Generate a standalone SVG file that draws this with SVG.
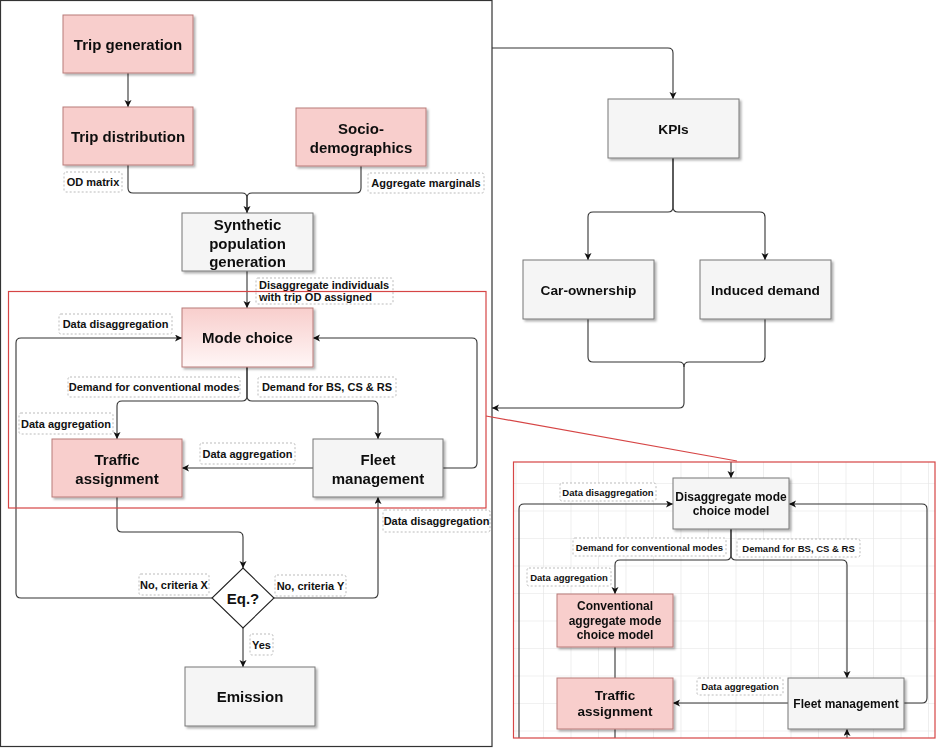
<svg xmlns="http://www.w3.org/2000/svg" width="936" height="748" viewBox="0 0 936 748">
<defs>
<style>
.pk{fill:#f8cecc;stroke:#b87a78;stroke-width:1}
.gr{fill:#f5f5f5;stroke:#777;stroke-width:1}
.t{font-family:"Liberation Sans",Arial,sans-serif;font-weight:bold;fill:#111;text-anchor:middle}
.b{font-size:15px}
.m{font-size:13.7px}
.s{font-size:12px}
.l{font-size:11px}
.ls{font-size:9.5px}
.lb{fill:#fff;stroke:#bbb;stroke-width:1;stroke-dasharray:2,2}
.c{fill:none;stroke:#333;stroke-width:1.1}
.red{fill:none;stroke:#d64545;stroke-width:1.2}
</style>
<marker id="ar" markerWidth="8" markerHeight="8" refX="7" refY="3.5" orient="auto" markerUnits="userSpaceOnUse">
<path d="M0,0 L7,3.5 L0,7 L1.8,3.5 z" fill="#111"/>
</marker>
<filter id="sh" x="-10%" y="-10%" width="130%" height="130%">
<feDropShadow dx="2" dy="2" stdDeviation="1" flood-color="#000" flood-opacity="0.3"/>
</filter>
<linearGradient id="mg" x1="0" y1="0" x2="0" y2="1">
<stop offset="0" stop-color="#f8cecc"/>
<stop offset="1" stop-color="#fff6f6"/>
</linearGradient>
<pattern id="grid" width="27.5" height="27.5" patternUnits="userSpaceOnUse" x="873" y="593">
<path d="M0,0 V27.5 M0,0 H27.5" fill="none" stroke="#e4e4e4" stroke-width="1.2"/>
</pattern>
<clipPath id="rp"><rect x="513" y="462" width="422" height="276"/></clipPath>
</defs>

<rect width="936" height="748" fill="#fff"/>
<!-- outer frame -->
<rect x="0.5" y="0.5" width="491.5" height="746" fill="none" stroke="#333" stroke-width="1.2"/>

<!-- right panel background -->
<rect x="513" y="462" width="422" height="276" fill="url(#grid)"/>

<g id="connectors">
<path class="c" d="M128,73 V107" marker-end="url(#ar)"/>
<path class="c" d="M128,165 V188 Q128,193 133,193 H242 Q247,193 247,198 V213" marker-end="url(#ar)"/>
<path class="c" d="M361,166 V188 Q361,193 356,193 H252 Q247,193 247,198 V213"/>
<path class="c" d="M247,271 V308" marker-end="url(#ar)"/>
<path class="c" d="M247,367 V396 Q247,401 242,401 H122 Q117,401 117,406 V439" marker-end="url(#ar)"/>
<path class="c" d="M247,367 V396 Q247,401 252,401 H373 Q378,401 378,406 V439" marker-end="url(#ar)"/>
<path class="c" d="M313,468 H182" marker-end="url(#ar)"/>
<path class="c" d="M443,468 H472 Q477,468 477,463 V343 Q477,338 472,338 H313" marker-end="url(#ar)"/>
<path class="c" d="M117,497 V527 Q117,532 122,532 H238 Q243,532 243,537 V568" marker-end="url(#ar)"/>
<path class="c" d="M212,598 H21 Q16,598 16,593 V343 Q16,338 21,338 H182" marker-end="url(#ar)"/>
<path class="c" d="M274,598 H373 Q378,598 378,593 V497" marker-end="url(#ar)"/>
<path class="c" d="M243,628 V667" marker-end="url(#ar)"/>
<path class="c" d="M492,48 H668 Q673,48 673,53 V99" marker-end="url(#ar)"/>
<path class="c" d="M673,158 V207 Q673,212 668,212 H593 Q588,212 588,217 V260" marker-end="url(#ar)"/>
<path class="c" d="M673,158 V207 Q673,212 678,212 H760 Q765,212 765,217 V260" marker-end="url(#ar)"/>
<path class="c" d="M588,319 V357 Q588,362 593,362 H679 Q684,362 684,367 V403 Q684,408 679,408 H492" marker-end="url(#ar)"/>
<path class="c" d="M765,319 V357 Q765,362 760,362 H689 Q684,362 684,367"/>
<path d="M486,416 L737,461" fill="none" stroke="#d64545" stroke-width="1.2"/>
<g clip-path="url(#rp)">
<path class="c" d="M731,455 V478" marker-end="url(#ar)"/>
<path class="c" d="M519,745 V509 Q519,504 524,504 H673" marker-end="url(#ar)"/>
<path class="c" d="M904,703 H922 Q927,703 927,698 V509 Q927,504 922,504 H789" marker-end="url(#ar)"/>
<path class="c" d="M731,529 V555 Q731,560 726,560 H620 Q615,560 615,565 V594" marker-end="url(#ar)"/>
<path class="c" d="M731,529 V555 Q731,560 736,560 H842 Q847,560 847,565 V678" marker-end="url(#ar)"/>
<path class="c" d="M615,647 V678"/>
<path class="c" d="M615,729 V745"/>
<path class="c" d="M788,703 H673" marker-end="url(#ar)"/>
<path class="c" d="M847,745 V729" marker-end="url(#ar)"/>
</g>
</g>

<!-- left nodes -->
<g id="trip-generation" filter="url(#sh)"><rect class="pk" x="63" y="15" width="130" height="58"/><text class="t b" x="128" y="49.5">Trip generation</text></g>
<g id="trip-distribution" filter="url(#sh)"><rect class="pk" x="63" y="107" width="130" height="58"/><text class="t b" x="128" y="142">Trip distribution</text></g>
<g id="socio-demographics" filter="url(#sh)"><rect class="pk" x="296" y="108" width="130" height="58"/><text class="t b" x="361" y="134">Socio-</text><text class="t b" x="361" y="152.5">demographics</text></g>
<g id="synthetic-population" filter="url(#sh)"><rect class="gr" x="182" y="213" width="131" height="58"/><text class="t b" x="247.5" y="230">Synthetic</text><text class="t b" x="247.5" y="248.5">population</text><text class="t b" x="247.5" y="267">generation</text></g>
<g id="mode-choice" filter="url(#sh)"><rect x="182" y="308" width="131" height="59" fill="url(#mg)" stroke="#b87a78" stroke-width="1"/><text class="t b" x="247.5" y="343">Mode choice</text></g>
<g id="traffic-assignment" filter="url(#sh)"><rect class="pk" x="52" y="439" width="130" height="58"/><text class="t b" x="117" y="465">Traffic</text><text class="t b" x="117" y="483.5">assignment</text></g>
<g id="fleet-management" filter="url(#sh)"><rect class="gr" x="313" y="439" width="130" height="58"/><text class="t b" x="378" y="465">Fleet</text><text class="t b" x="378" y="483.5">management</text></g>
<g id="equilibrium"><path d="M243,568 L274,598 L243,628 L212,598 Z" fill="#fff" stroke="#222" stroke-width="1.1"/><text class="t b" x="243" y="603.5">Eq.?</text></g>
<g id="emission" filter="url(#sh)"><rect class="gr" x="185" y="667" width="130" height="59"/><text class="t b" x="250" y="702">Emission</text></g>

<!-- right top nodes -->
<g id="kpis" filter="url(#sh)"><rect class="gr" x="608" y="99" width="131" height="59"/><text class="t m" x="673.5" y="133.5">KPIs</text></g>
<g id="car-ownership" filter="url(#sh)"><rect class="gr" x="523" y="260" width="131" height="59"/><text class="t m" x="588.5" y="294.5">Car-ownership</text></g>
<g id="induced-demand" filter="url(#sh)"><rect class="gr" x="700" y="260" width="131" height="59"/><text class="t m" x="765.5" y="294.5">Induced demand</text></g>

<!-- labels left -->
<g id="lbl-od"><rect class="lb" x="64" y="172" width="58" height="20" rx="2"/><text class="t l" x="93" y="186">OD matrix</text></g>
<g id="lbl-marginals"><rect class="lb" x="368" y="173" width="116" height="20" rx="2"/><text class="t l" x="426" y="187">Aggregate marginals</text></g>
<g id="lbl-individuals"><rect class="lb" x="256" y="278" width="137" height="26" rx="2"/><text class="t l" x="259" y="289" style="text-anchor:start">Disaggregate individuals</text><text class="t l" x="259" y="300.5" style="text-anchor:start">with trip OD assigned</text></g>
<g id="lbl-disagg1"><rect class="lb" x="59" y="314" width="113" height="20" rx="2"/><text class="t l" x="115.5" y="328">Data disaggregation</text></g>
<g id="lbl-conv"><rect class="lb" x="68" y="377" width="172" height="20" rx="2"/><text class="t l" x="154" y="391">Demand for conventional modes</text></g>
<g id="lbl-bs"><rect class="lb" x="258" y="377" width="138" height="20" rx="2"/><text class="t l" x="327" y="391">Demand for BS, CS &amp; RS</text></g>
<g id="lbl-agg1"><rect class="lb" x="19" y="413" width="94" height="21" rx="2"/><text class="t l" x="66" y="427.5">Data aggregation</text></g>
<g id="lbl-agg2"><rect class="lb" x="200" y="443" width="95" height="21" rx="2"/><text class="t l" x="247.5" y="457.5">Data aggregation</text></g>
<g id="lbl-disagg2"><rect class="lb" x="383" y="510" width="107" height="22" rx="2"/><text class="t l" x="436.5" y="525">Data disaggregation</text></g>
<g id="lbl-nox"><rect class="lb" x="139" y="574" width="70" height="21" rx="2"/><text class="t l" x="174" y="588.5">No, criteria X</text></g>
<g id="lbl-noy"><rect class="lb" x="275" y="575" width="71" height="21" rx="2"/><text class="t l" x="310.5" y="589.5">No, criteria Y</text></g>
<g id="lbl-yes"><rect class="lb" x="250" y="634" width="23" height="21" rx="2"/><text class="t l" x="261.5" y="648.5">Yes</text></g>

<!-- red frames -->
<rect class="red" x="8.5" y="291.5" width="477.5" height="216.5"/>

<!-- right panel nodes -->
<g clip-path="url(#rp)">
<g id="disagg-mode-choice" filter="url(#sh)"><rect class="gr" x="673" y="478" width="116" height="51"/><text class="t s" x="731" y="501">Disaggregate mode</text><text class="t s" x="731" y="515">choice model</text></g>
<g id="conv-mode-choice" filter="url(#sh)"><rect class="pk" x="557" y="594" width="116" height="53"/><text class="t s" x="615" y="610">Conventional</text><text class="t s" x="615" y="624.5">aggregate mode</text><text class="t s" x="615" y="639">choice model</text></g>
<g id="traffic-assignment-2" filter="url(#sh)"><rect class="pk" x="557" y="678" width="116" height="51"/><text class="t" style="font-size:13.5px" x="615" y="700">Traffic</text><text class="t" style="font-size:13.5px" x="615" y="716">assignment</text></g>
<g id="fleet-management-2" filter="url(#sh)"><rect class="gr" x="788" y="678" width="116" height="51"/><text class="t s" x="846" y="707.5">Fleet management</text></g>
<g id="rlbl-disagg"><rect class="lb" x="560" y="483" width="96" height="18" rx="2"/><text class="t ls" x="608" y="495.5">Data disaggregation</text></g>
<g id="rlbl-conv"><rect class="lb" x="573" y="538" width="153" height="18" rx="2"/><text class="t ls" x="649.5" y="550.5">Demand for conventional modes</text></g>
<g id="rlbl-bs"><rect class="lb" x="737" y="539" width="123" height="18" rx="2"/><text class="t ls" x="798.5" y="551.5">Demand for BS, CS &amp; RS</text></g>
<g id="rlbl-agg1"><rect class="lb" x="527" y="568" width="84" height="18" rx="2"/><text class="t ls" x="569" y="580.5">Data aggregation</text></g>
<g id="rlbl-agg2"><rect class="lb" x="697" y="678" width="86" height="17" rx="2"/><text class="t ls" x="740" y="690">Data aggregation</text></g>
</g>
<rect class="red" x="513.5" y="462" width="421.5" height="276"/>
</svg>
